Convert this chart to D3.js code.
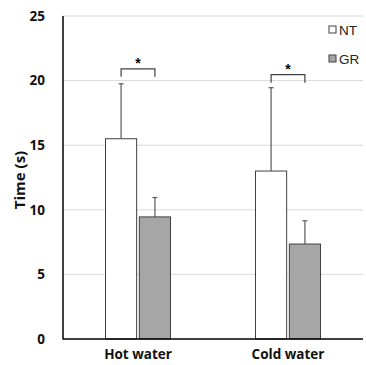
<!DOCTYPE html>
<html><head><meta charset="utf-8">
<script src="https://cdn.jsdelivr.net/npm/d3@7"></script>
<style>body{margin:0;background:#fff}svg{display:block}</style>
</head><body>
<script>
const categories = ["Hot water", "Cold water"];
const seriesNames = ["NT", "GR"];
const meanNT = [15.5, 13.0];
const meanGR = [9.45, 7.35];
const errNT = [4.25, 6.45];
const errGR = [1.5, 1.8];
const yTicks = [0, 5, 10, 15, 20, 25];
const sigLabel = ["*", "*"];

const W = 366, H = 365;
const svg = d3.select("body").append("svg").attr("width", W).attr("height", H);
const y = d3.scaleLinear().domain([0, 25]).range([339, 16]);
const x0 = d3.scaleBand().domain(categories).range([63, 363]);
const x1 = d3.scaleBand().domain(seriesNames).range([0, 66]).paddingInner(0.05);
const groupOffset = c => x0(c) + x0.bandwidth()/2 - 33;

// grid
svg.append("g").selectAll("line").data(yTicks.filter(d => d > 0)).join("line")
  .attr("x1", 63).attr("x2", 363).attr("y1", d => y(d)).attr("y2", d => y(d))
  .attr("stroke", "#d9d9d9").attr("stroke-width", 1);

// y tick labels
const yAxis = d3.axisLeft(y).tickValues(yTicks).tickSize(0).tickPadding(18);
const ga = svg.append("g").attr("transform", "translate(63,0)").call(yAxis);
ga.select(".domain").remove();
ga.selectAll("text").attr("font-family", "Open Sans, sans-serif").attr("font-weight", "bold")
  .attr("font-size", 13.5).attr("fill", "#111");

const data = categories.map((c, i) => ({c, vals: [
  {s: "NT", v: meanNT[i], e: errNT[i], fill: "#ffffff"},
  {s: "GR", v: meanGR[i], e: errGR[i], fill: "#a6a6a6"}
]}));

const groups = svg.append("g").selectAll("g").data(data).join("g")
  .attr("transform", d => `translate(${groupOffset(d.c)},0)`);

// error bars (upper only)
groups.selectAll("line.err").data(d => d.vals).join("line").attr("class", "err")
  .attr("x1", d => x1(d.s) + x1.bandwidth()/2).attr("x2", d => x1(d.s) + x1.bandwidth()/2)
  .attr("y1", d => y(d.v)).attr("y2", d => y(d.v + d.e))
  .attr("stroke", "#595959").attr("stroke-width", 1.2);
groups.selectAll("line.cap").data(d => d.vals).join("line").attr("class", "cap")
  .attr("x1", d => x1(d.s) + x1.bandwidth()/2 - 2.5).attr("x2", d => x1(d.s) + x1.bandwidth()/2 + 2.5)
  .attr("y1", d => y(d.v + d.e)).attr("y2", d => y(d.v + d.e))
  .attr("stroke", "#595959").attr("stroke-width", 1.2);

groups.selectAll("rect").data(d => d.vals).join("rect")
  .attr("x", d => x1(d.s) + 0.5).attr("width", x1.bandwidth() - 1)
  .attr("y", d => y(d.v)).attr("height", d => y(0) - y(d.v))
  .attr("fill", d => d.fill).attr("stroke", "#404040").attr("stroke-width", 1);

// significance brackets
groups.each(function(d, i) {
  const g = d3.select(this);
  const xa = x1("NT") + x1.bandwidth()/2, xb = x1("GR") + x1.bandwidth()/2;
  const top = y(d.vals[0].v + d.vals[0].e) - 15 + (i === 0 ? 0 : 2);
  g.append("path").attr("d", `M${xa},${top + 8}V${top}H${xb}V${top + 8}`)
    .attr("fill", "none").attr("stroke", "#404040").attr("stroke-width", 1.2);
  g.append("text").attr("x", (xa + xb)/2).attr("y", top - 0.5).attr("text-anchor", "middle")
    .attr("font-family", "Liberation Sans, Arial, sans-serif").attr("font-weight", "bold")
    .attr("font-size", 14).text(sigLabel[i]);
});

// axes lines
svg.append("line").attr("x1", 63).attr("x2", 63).attr("y1", 16).attr("y2", 339.5)
  .attr("stroke", "#000").attr("stroke-width", 1.5);
svg.append("line").attr("x1", 63).attr("x2", 363).attr("y1", 339).attr("y2", 339)
  .attr("stroke", "#000").attr("stroke-width", 1.5);

// x labels
svg.append("g").selectAll("text").data(categories).join("text")
  .attr("x", d => groupOffset(d) + 33).attr("y", 359).attr("text-anchor", "middle")
  .attr("font-family", "Open Sans, sans-serif").attr("font-weight", "bold")
  .attr("font-size", 13.5).attr("fill", "#111").text(d => d);

// y label
svg.append("text").attr("transform", "translate(25,180) rotate(-90)").attr("text-anchor", "middle")
  .attr("font-family", "Open Sans, sans-serif").attr("font-weight", "bold")
  .attr("font-size", 15).attr("fill", "#111").text("Time (s)");

// legend
const leg = svg.append("g").selectAll("g").data(seriesNames).join("g")
  .attr("transform", (d, i) => `translate(329,${26 + i * 29})`);
leg.append("rect").attr("width", 7).attr("height", 7)
  .attr("fill", (d, i) => i ? "#a6a6a6" : "#fff").attr("stroke", "#404040").attr("stroke-width", 1);
leg.append("text").attr("x", 10).attr("y", 9).attr("font-family", "Liberation Sans, Arial, sans-serif")
  .attr("font-size", 13.5).attr("fill", "#222").text(d => d);
</script>
</body></html>
